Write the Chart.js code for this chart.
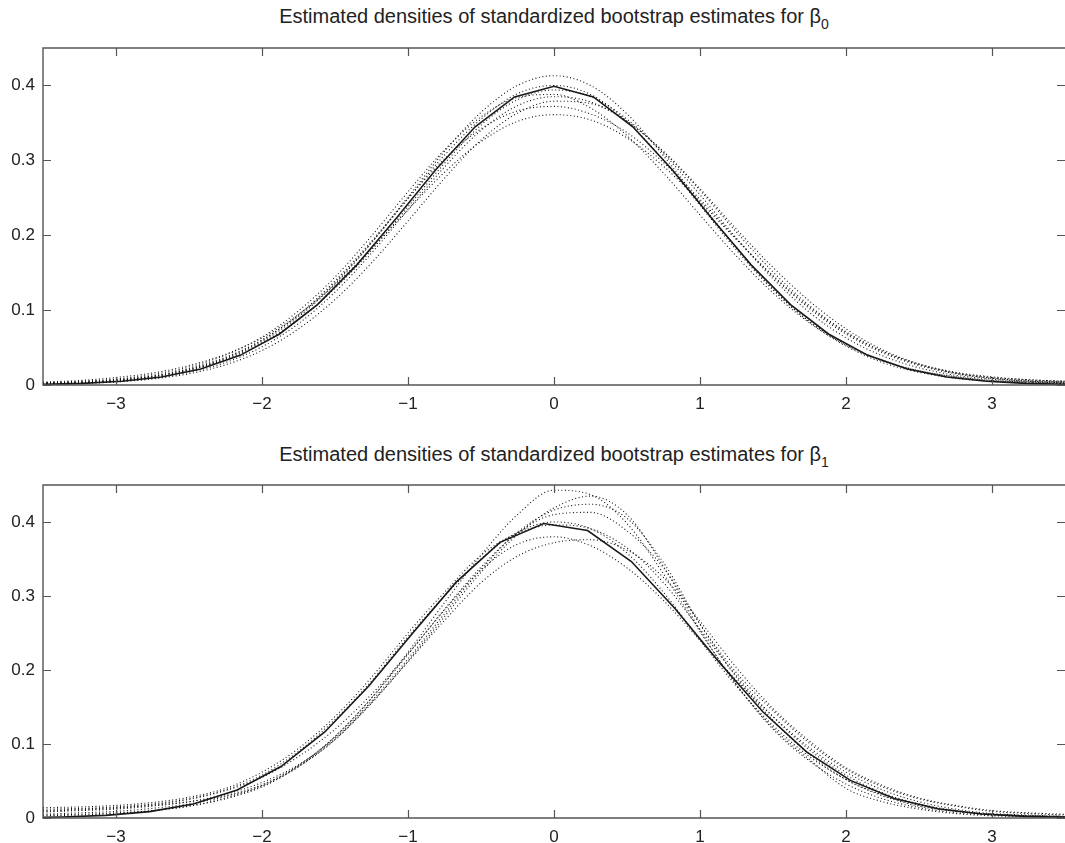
<!DOCTYPE html>
<html>
<head>
<meta charset="utf-8">
<script src="https://cdn.jsdelivr.net/npm/chart.js@4.4.1/dist/chart.umd.min.js"></script>
<style>
    html, body { margin: 0; padding: 0; background: #fff; overflow: hidden; }
    body { width: 1065px; height: 843px; position: relative; font-family: "Liberation Sans", Arial, Helvetica, sans-serif; }
    .title { position: absolute; left: 43px; width: 1022px; text-align: center; font-size: 20px; color: #222; line-height: 22px; }
    .title sub { font-size: 14px; vertical-align: -6px; line-height: 0; }
    .panel { position: absolute; left: 0; width: 1065px; }
</style>
</head>
<body>

<div class="title" style="top: 5px;">Estimated densities of standardized bootstrap estimates for β<sub>0</sub></div>
<div class="panel" style="top: 0; height: 437px;"><canvas id="beta0"></canvas></div>

<div class="title" style="top: 443px;">Estimated densities of standardized bootstrap estimates for β<sub>1</sub></div>
<div class="panel" style="top: 437px; height: 406px;"><canvas id="beta1"></canvas></div>

<script>
// tick labels
const xTicks = [-3, -2, -1, 0, 1, 2, 3];
const yTicks = [0, 0.1, 0.2, 0.3, 0.4];

// normal reference density, beta0 panel
const norm0X = [-3.50, -3.23, -2.96, -2.69, -2.42, -2.15, -1.88, -1.62, -1.35, -1.08, -0.81, -0.54, -0.27,
    0, 0.27, 0.54, 0.81, 1.08, 1.35, 1.62, 1.88, 2.15, 2.42, 2.69, 2.96, 3.23, 3.50];
const norm0Y = [0.0009, 0.0022, 0.0050, 0.0107, 0.0213, 0.0396, 0.0681, 0.1074, 0.1604, 0.2227, 0.2874, 0.3448, 0.3846,
    0.3989, 0.3846, 0.3448, 0.2874, 0.2227, 0.1604, 0.1074, 0.0681, 0.0396, 0.0213, 0.0107, 0.0050, 0.0022, 0.0009];

// normal reference density, beta1 panel
const norm1X = [-3.67, -3.37, -3.07, -2.77, -2.47, -2.17, -1.87, -1.57, -1.27, -0.97, -0.67, -0.37, -0.07,
    0.23, 0.53, 0.83, 1.13, 1.43, 1.73, 2.03, 2.33, 2.63, 2.93, 3.23, 3.53];
const norm1Y = [0.0005, 0.0014, 0.0036, 0.0086, 0.0189, 0.0379, 0.0695, 0.1163, 0.1781, 0.2492, 0.3187, 0.3725, 0.3979,
    0.3885, 0.3466, 0.2827, 0.2107, 0.1435, 0.0893, 0.0508, 0.0264, 0.0126, 0.0055, 0.0022, 0.0008];

// points where the bootstrap kernel densities are evaluated
const bootX = [-3.5, -3.25, -3, -2.75, -2.5, -2.25, -2, -1.75, -1.5, -1.25, -1, -0.75, -0.5, -0.25,
    0, 0.25, 0.5, 0.75, 1, 1.25, 1.5, 1.75, 2, 2.25, 2.5, 2.75, 3, 3.25, 3.5];

const boot0 = [
    [0.002, 0.003, 0.006, 0.011, 0.020, 0.035, 0.058, 0.091, 0.135, 0.190, 0.251, 0.312, 0.364, 0.400, 0.413, 0.400, 0.362, 0.306, 0.244, 0.183, 0.128, 0.084, 0.052, 0.030, 0.017, 0.009, 0.005, 0.003, 0.002],
    [0.004, 0.006, 0.010, 0.016, 0.026, 0.041, 0.063, 0.094, 0.134, 0.182, 0.234, 0.284, 0.325, 0.352, 0.361, 0.354, 0.330, 0.292, 0.245, 0.194, 0.146, 0.104, 0.070, 0.045, 0.028, 0.017, 0.011, 0.007, 0.005],
    [0.003, 0.005, 0.008, 0.014, 0.024, 0.040, 0.064, 0.099, 0.144, 0.199, 0.258, 0.314, 0.358, 0.384, 0.388, 0.370, 0.333, 0.283, 0.227, 0.172, 0.123, 0.083, 0.053, 0.032, 0.019, 0.011, 0.006, 0.004, 0.002],
    [0.001, 0.002, 0.004, 0.008, 0.015, 0.027, 0.046, 0.075, 0.114, 0.163, 0.219, 0.276, 0.327, 0.363, 0.379, 0.376, 0.352, 0.311, 0.260, 0.204, 0.151, 0.106, 0.071, 0.045, 0.027, 0.016, 0.009, 0.005, 0.003],
    [0.002, 0.003, 0.006, 0.011, 0.020, 0.034, 0.056, 0.087, 0.129, 0.180, 0.238, 0.296, 0.347, 0.381, 0.394, 0.385, 0.355, 0.309, 0.254, 0.196, 0.142, 0.097, 0.063, 0.039, 0.023, 0.013, 0.008, 0.005, 0.004],
    [0.003, 0.004, 0.007, 0.012, 0.021, 0.036, 0.060, 0.094, 0.139, 0.192, 0.249, 0.302, 0.342, 0.366, 0.372, 0.362, 0.337, 0.297, 0.248, 0.195, 0.145, 0.102, 0.068, 0.043, 0.026, 0.015, 0.009, 0.006, 0.004],
    [0.003, 0.004, 0.007, 0.012, 0.022, 0.037, 0.060, 0.093, 0.137, 0.190, 0.249, 0.307, 0.355, 0.389, 0.400, 0.388, 0.352, 0.300, 0.240, 0.180, 0.127, 0.085, 0.054, 0.033, 0.019, 0.011, 0.006, 0.004, 0.003],
    [0.002, 0.003, 0.005, 0.009, 0.017, 0.030, 0.051, 0.082, 0.124, 0.176, 0.234, 0.291, 0.340, 0.373, 0.385, 0.378, 0.352, 0.312, 0.262, 0.208, 0.157, 0.112, 0.075, 0.047, 0.028, 0.016, 0.010, 0.007, 0.005]
];

const boot1 = [
    [0.004, 0.005, 0.007, 0.010, 0.016, 0.026, 0.042, 0.070, 0.110, 0.162, 0.224, 0.291, 0.355, 0.410, 0.443, 0.437, 0.398, 0.330, 0.252, 0.180, 0.120, 0.077, 0.046, 0.026, 0.014, 0.007, 0.004, 0.002, 0.001],
    [0.008, 0.010, 0.012, 0.016, 0.022, 0.032, 0.048, 0.072, 0.108, 0.158, 0.215, 0.276, 0.336, 0.386, 0.416, 0.424, 0.405, 0.345, 0.262, 0.190, 0.132, 0.086, 0.052, 0.030, 0.016, 0.009, 0.005, 0.003, 0.002],
    [0.014, 0.015, 0.017, 0.021, 0.028, 0.040, 0.062, 0.094, 0.137, 0.190, 0.250, 0.305, 0.355, 0.385, 0.396, 0.391, 0.365, 0.318, 0.255, 0.192, 0.137, 0.092, 0.058, 0.034, 0.019, 0.010, 0.005, 0.003, 0.002],
    [0.003, 0.004, 0.006, 0.010, 0.016, 0.027, 0.043, 0.069, 0.106, 0.156, 0.211, 0.267, 0.318, 0.354, 0.372, 0.376, 0.362, 0.325, 0.266, 0.203, 0.148, 0.104, 0.068, 0.044, 0.027, 0.017, 0.010, 0.007, 0.005],
    [0.010, 0.012, 0.014, 0.017, 0.022, 0.030, 0.044, 0.070, 0.106, 0.155, 0.212, 0.272, 0.332, 0.383, 0.419, 0.435, 0.410, 0.340, 0.254, 0.180, 0.122, 0.079, 0.040, 0.022, 0.012, 0.006, 0.003, 0.002, 0.001],
    [0.012, 0.013, 0.015, 0.019, 0.026, 0.038, 0.058, 0.090, 0.133, 0.185, 0.245, 0.300, 0.350, 0.386, 0.400, 0.391, 0.358, 0.305, 0.240, 0.178, 0.125, 0.083, 0.052, 0.031, 0.017, 0.009, 0.005, 0.003, 0.002],
    [0.005, 0.007, 0.009, 0.013, 0.019, 0.029, 0.045, 0.071, 0.110, 0.162, 0.221, 0.282, 0.339, 0.385, 0.410, 0.413, 0.388, 0.338, 0.262, 0.196, 0.145, 0.101, 0.066, 0.042, 0.026, 0.016, 0.009, 0.006, 0.004],
    [0.009, 0.011, 0.013, 0.018, 0.025, 0.037, 0.055, 0.083, 0.120, 0.167, 0.222, 0.281, 0.335, 0.370, 0.380, 0.368, 0.338, 0.294, 0.240, 0.186, 0.137, 0.095, 0.062, 0.038, 0.022, 0.012, 0.006, 0.004, 0.002]
];

const FONT = '"Liberation Sans", Arial, Helvetica, sans-serif';

// box around the plot area with ticks pointing inward on every side
const frameTicks = {
    id: 'frameTicks',
    afterDatasetsDraw(chart) {
        const { ctx, chartArea: a, scales } = chart;
        const len = 8;
        ctx.save();
        ctx.strokeStyle = '#555';
        ctx.lineWidth = 1.4;
        ctx.beginPath();
        ctx.moveTo(a.right + 2, a.top);
        ctx.lineTo(a.left, a.top);
        ctx.lineTo(a.left, a.bottom);
        ctx.lineTo(a.right + 2, a.bottom);
        ctx.stroke();

        ctx.lineWidth = 1.2;
        ctx.beginPath();
        xTicks.forEach(v => {
            const px = Math.round(scales.x.getPixelForValue(v)) + 0.5;
            ctx.moveTo(px, a.bottom);
            ctx.lineTo(px, a.bottom - len);
            ctx.moveTo(px, a.top);
            ctx.lineTo(px, a.top + len);
        });
        yTicks.forEach(v => {
            const py = Math.round(scales.y.getPixelForValue(v)) + 0.5;
            ctx.moveTo(a.left, py);
            ctx.lineTo(a.left + len, py);
            ctx.moveTo(a.right, py);
            ctx.lineTo(a.right - len, py);
        });
        ctx.stroke();
        ctx.restore();
    }
};

function makePanel(canvasId, normX, normY, curves, axisHeight) {
    const datasets = curves.map(c => ({
        data: bootX.map((x, i) => ({ x: x, y: c[i] })),
        borderColor: '#111',
        borderWidth: 1.1,
        borderDash: [1, 2.5],
        pointRadius: 0,
        cubicInterpolationMode: 'monotone'
    }));

    datasets.push({
        data: normX.map((x, i) => ({ x: x, y: normY[i] })),
        borderColor: '#1a1a1a',
        borderWidth: 1.6,
        pointRadius: 0,
        tension: 0
    });

    new Chart(document.getElementById(canvasId), {
        type: 'line',
        data: { datasets: datasets },
        plugins: [frameTicks],
        options: {
            responsive: true,
            maintainAspectRatio: false,
            animation: false,
            layout: { padding: { top: 48, right: 0, left: 0, bottom: 0 } },
            plugins: {
                legend: { display: false },
                tooltip: { enabled: false }
            },
            scales: {
                x: {
                    type: 'linear',
                    min: -3.5,
                    max: 3.5,
                    afterBuildTicks: s => { s.ticks = xTicks.map(v => ({ value: v })); },
                    afterFit: s => { s.height = axisHeight; },
                    grid: { display: false, drawTicks: false },
                    border: { display: false },
                    ticks: {
                        padding: 9,
                        color: '#222',
                        font: { family: FONT, size: 17 },
                        maxRotation: 0,
                        callback: v => String(v).replace('-', '\u2212')
                    }
                },
                y: {
                    min: 0,
                    max: 0.45,
                    afterBuildTicks: s => { s.ticks = yTicks.map(v => ({ value: v })); },
                    afterFit: s => { s.width = 43; },
                    grid: { display: false, drawTicks: false },
                    border: { display: false },
                    ticks: {
                        padding: 8,
                        color: '#222',
                        font: { family: FONT, size: 17 },
                        callback: v => String(v)
                    }
                }
            }
        }
    });
}

makePanel('beta0', norm0X, norm0Y, boot0, 52);
makePanel('beta1', norm1X, norm1Y, boot1, 25);
</script>
</body>
</html>
